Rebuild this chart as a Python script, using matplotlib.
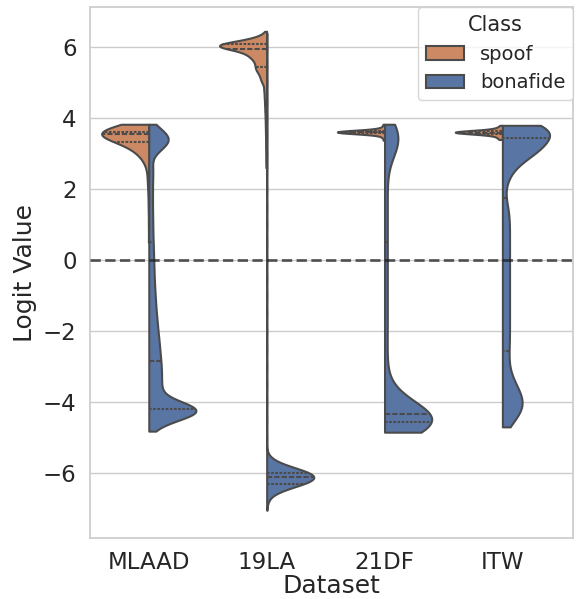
import numpy as np
import matplotlib.pyplot as plt
import seaborn as sns
from matplotlib.patches import Patch

datasets = ["MLAAD", "19LA", "21DF", "ITW"]
classes = ["spoof", "bonafide"]

# logit values, with how many samples sit at each value
mlaad_spoof_logits = [0.5, 1.0, 1.4, 1.7, 2.0, 2.2, 2.4, 2.6, 2.75, 2.85, 2.95, 3.05, 3.15,
                      3.25, 3.35, 3.42, 3.48, 3.55, 3.6, 3.67, 3.75, 3.83]
mlaad_spoof_counts = [5, 5, 5, 6, 7, 8, 9, 10, 12, 18, 25, 35, 45,
                      60, 80, 50, 90, 150, 130, 90, 90, 70]

mlaad_bona_logits = [-4.82, -4.7, -4.6, -4.5, -4.4, -4.3, -4.2, -4.1, -4.0, -3.9, -3.8,
                     -3.6, -3.35, -3.1, -2.85,
                     -2.6, -2.35, -2.1, -1.85, -1.6, -1.35, -1.1, -0.85, -0.6, -0.35, -0.1,
                     0.15, 0.4, 0.65, 0.9, 1.15, 1.4, 1.65, 1.9, 2.15, 2.4, 2.65,
                     2.9, 3.0, 3.1, 3.2, 3.3, 3.4, 3.5, 3.6, 3.7, 3.83]
mlaad_bona_counts = [10, 10, 22, 38, 71, 102, 100, 71, 45, 25, 20,
                     48, 48, 48, 46,
                     42, 40, 36, 33, 30, 27, 25, 23, 21, 20, 19,
                     18, 17, 16, 15, 15, 14, 14, 14, 14, 15, 17,
                     3, 8, 15, 26, 35, 39, 35, 26, 19, 12]

la19_spoof_logits = [2.6, 2.8, 3.0, 3.2, 3.4, 3.6, 3.8, 4.0, 4.2, 4.4, 4.6, 4.8, 5.0,
                     5.1, 5.2, 5.3, 5.38, 5.45, 5.55, 5.65, 5.75, 5.85,
                     5.96, 6.03, 6.08, 6.15, 6.25, 6.35, 6.45]
la19_spoof_counts = [5, 6, 6, 7, 7, 8, 9, 10, 12, 14, 16, 19, 21,
                     20, 23, 26, 31, 32, 38, 45, 60, 75,
                     100, 150, 110, 90, 45, 12, 3]

la19_bona_logits = [-7.05, -6.9, -6.8, -6.7, -6.6, -6.5, -6.4, -6.3, -6.2, -6.1, -6.0,
                    -5.9, -5.8, -5.7, -5.6, -5.5,
                    -5.0, -4.5, -4.0, -3.5, -3.0, -2.5, -2.0, -1.5, -1.0, -0.5, 0.0,
                    0.5, 1.0, 1.5, 2.0, 2.5, 3.0, 3.5, 4.0, 4.5, 5.0, 5.5, 6.0, 6.4]
la19_bona_counts = [1, 1, 2, 3, 9, 22, 45, 72, 94, 100, 86,
                    61, 35, 16, 6, 2,
                    1, 1, 1, 1, 1, 1, 1, 1, 1, 1, 1,
                    1, 1, 1, 1, 1, 1, 1, 1, 1, 1, 1, 1, 1]

df21_spoof_logits = [3.38, 3.46, 3.52, 3.56, 3.59, 3.62, 3.65, 3.68, 3.72, 3.77, 3.83]
df21_spoof_counts = [2, 3, 6, 14, 30, 34, 20, 8, 4, 2, 2]

df21_bona_logits = [-4.85, -4.75, -4.65, -4.55, -4.45, -4.35, -4.2, -4.0, -3.8, -3.5,
                    -3.0, -2.5, -2.0, -1.5, -1.0, -0.5, 0.0, 0.5, 1.0, 1.5, 2.0,
                    2.5, 3.0, 3.3, 3.55, 3.75, 3.83]
df21_bona_counts = [45, 79, 102, 124, 112, 101, 55, 55, 30, 18,
                    15, 15, 16, 16, 16, 16, 16, 16, 16, 16, 16,
                    14, 35, 60, 60, 35, 10]

itw_spoof_logits = [3.40, 3.46, 3.52, 3.56, 3.59, 3.62, 3.65, 3.69, 3.74, 3.80]
itw_spoof_counts = [4, 6, 10, 18, 30, 32, 18, 9, 5, 3]

itw_bona_logits = [-4.7, -4.5, -4.3, -4.1, -3.9, -3.7, -3.5, -3.25, -2.95, -2.65,
                   -2.35, -2.05, -1.75, -1.45, -1.15, -0.85, -0.55, -0.25, 0.05, 0.35,
                   0.65, 0.95, 1.25, 1.55,
                   1.75, 1.95, 2.1, 2.25, 2.4, 2.55, 2.7, 2.85, 3.0, 3.1, 3.2, 3.3,
                   3.5, 3.6, 3.7, 3.8]
itw_bona_counts = [12, 20, 35, 40, 36, 30, 25, 20, 16, 16,
                   18, 18, 18, 18, 18, 18, 18, 18, 18, 18,
                   18, 18, 18, 14,
                   2, 3, 4, 6, 9, 13, 18, 25, 35, 40, 45, 50,
                   45, 55, 70, 80]

samples = {
    ("MLAAD", "spoof"): (mlaad_spoof_logits, mlaad_spoof_counts),
    ("MLAAD", "bonafide"): (mlaad_bona_logits, mlaad_bona_counts),
    ("19LA", "spoof"): (la19_spoof_logits, la19_spoof_counts),
    ("19LA", "bonafide"): (la19_bona_logits, la19_bona_counts),
    ("21DF", "spoof"): (df21_spoof_logits, df21_spoof_counts),
    ("21DF", "bonafide"): (df21_bona_logits, df21_bona_counts),
    ("ITW", "spoof"): (itw_spoof_logits, itw_spoof_counts),
    ("ITW", "bonafide"): (itw_bona_logits, itw_bona_counts),
}

# kde bandwidth for each half
bandwidth = {
    ("MLAAD", "spoof"): 0.2, ("MLAAD", "bonafide"): 0.2,
    ("19LA", "spoof"): 0.1, ("19LA", "bonafide"): 0.15,
    ("21DF", "spoof"): 0.035, ("21DF", "bonafide"): 0.45,
    ("ITW", "spoof"): 0.035, ("ITW", "bonafide"): 0.3,
}


def half_violin(logits, counts, bw, half_width=0.4):
    logits = np.asarray(logits, float)
    counts = np.asarray(counts, float)
    # cut=0: only between min and max of the data
    grid = np.linspace(logits.min(), logits.max(), 300)
    dens = (counts[None, :] * np.exp(-0.5 * ((grid[:, None] - logits[None, :]) / bw) ** 2)).sum(axis=1)
    return grid, dens / dens.max() * half_width


sns.set_theme(style="whitegrid", font_scale=1.5)
plt.rcParams["font.family"] = ["DejaVu Sans"]

deep = sns.color_palette("deep")
palette = {"spoof": sns.desaturate(deep[1], 0.75), "bonafide": sns.desaturate(deep[0], 0.75)}
line_color = (0.296, 0.296, 0.296)

fig, ax = plt.subplots(figsize=(5.76, 5.99), dpi=100)
fig.subplots_adjust(left=0.156, right=0.995, bottom=0.102, top=0.988)

for i, ds in enumerate(datasets):
    for cls, side in zip(classes, (-1, 1)):
        logits, counts = samples[(ds, cls)]
        grid, width = half_violin(logits, counts, bandwidth[(ds, cls)])
        ax.fill_betweenx(grid, i, i + side * width, facecolor=palette[cls],
                         edgecolor=line_color, linewidth=1.5, zorder=2)
        # inner="quart"
        obs = np.repeat(logits, counts)
        q1, med, q3 = np.percentile(obs, [25, 50, 75])
        for q, dash in ((q1, (1.25, .75)), (med, (2.5, 1)), (q3, (1.25, .75))):
            w = np.interp(q, grid, width)
            ax.plot([i, i + side * w], [q, q], color=line_color, lw=1.5,
                    linestyle=(0, dash), zorder=3)

ax.axhline(0, color="k", linestyle="--", lw=2, alpha=0.7, zorder=4)

ax.xaxis.grid(False)
ax.set_xticks(range(len(datasets)))
ax.set_xticklabels(datasets)
ax.set_yticks([-6, -4, -2, 0, 2, 4, 6])
ax.set_xlim(-0.5, 3.6)
ax.set_ylim(-7.83, 7.13)
ax.set_xlabel("Dataset", labelpad=0)
ax.set_ylabel("Logit Value")

handles = [Patch(facecolor=palette[c], edgecolor=line_color, linewidth=1.5, label=c) for c in classes]
ax.legend(handles=handles, title="Class", loc="upper right", borderaxespad=0,
          fontsize=14, title_fontsize=15)

fig.savefig("out.png", dpi=100)
